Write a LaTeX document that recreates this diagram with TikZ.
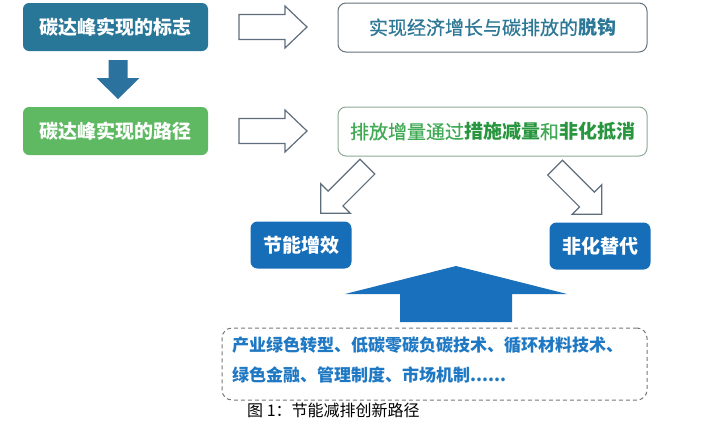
\documentclass[tikz,border=0pt]{standalone}
\usepackage{fontspec}
\setmainfont{Noto Sans CJK SC}
\newfontfamily\medfont[FakeBold=0.6]{Noto Sans CJK SC}
\definecolor{tealbox}{RGB}{40,118,152}
\definecolor{greenbox}{RGB}{95,185,98}
\definecolor{downarr}{RGB}{44,114,158}
\definecolor{hollowline}{RGB}{95,110,125}
\definecolor{rOneline}{RGB}{100,115,125}
\definecolor{rOnetext}{RGB}{45,120,150}
\definecolor{rTwoline}{RGB}{140,170,150}
\definecolor{rTwotext}{RGB}{65,170,85}
\definecolor{rTwobold}{RGB}{40,150,62}
\definecolor{bluebox}{RGB}{22,110,185}
\definecolor{bigarr}{RGB}{25,112,188}
\definecolor{dashtext}{RGB}{30,120,195}
\definecolor{dashline}{RGB}{120,120,120}
\tikzset{
  leftbox/.style={rounded corners=6pt, minimum width=185pt, minimum height=48pt, inner sep=0pt,
    text=white, font=\bfseries\fontsize{19}{22}\selectfont},
  rightbox/.style={rounded corners=8pt, draw, fill=white, line width=1pt, minimum width=309pt,
    minimum height=49pt, inner sep=0pt, font=\medfont\fontsize{19}{22}\selectfont},
  bluebx/.style={fill=bluebox, rounded corners=7pt, minimum width=101pt, minimum height=47pt,
    inner sep=0pt, text=white, font=\bfseries\fontsize{19}{22}\selectfont},
  hollowarrow/.style={draw=hollowline, fill=white, line width=1.2pt, line join=miter},
  listtext/.style={anchor=west, inner sep=0pt, text=dashtext, font=\bfseries\fontsize{17}{20}\selectfont},
}
% #1 name, #2 centre, #3 rotation, #4 length, #5 shaft width, #6 head width, #7 head length, #8 style
\newcommand{\BlockArrow}[8]{%
  \begin{scope}[shift={#2}, rotate=#3]
    \coordinate (#1) at (0,0);
    \path[#8] ({-#4/2},{#5/2}) -- ({#4/2-#7},{#5/2}) -- ({#4/2-#7},{#6/2}) -- ({#4/2},0)
      -- ({#4/2-#7},{-#6/2}) -- ({#4/2-#7},{-#5/2}) -- ({-#4/2},{-#5/2}) -- cycle;
  \end{scope}}
\begin{document}
\begin{tikzpicture}[x=1pt,y=1pt]
\fill[white] (0,0) rectangle (721,-424);
\useasboundingbox (0,0) rectangle (721,-424);

% left column
\node[leftbox, fill=tealbox] (mark) at (115.5,-27) {碳达峰实现的标志};
\node[leftbox, fill=greenbox] (path) at (115.5,-131) {碳达峰实现的路径};
\BlockArrow{down}{(118,-79.5)}{-90}{39}{19}{43}{21}{fill=downarr}

% right boxes
\node[rightbox, draw=rOneline, text=rOnetext] (decouple) at (492.5,-27.5)
  {实现经济增长与碳排放的{\normalfont\bfseries 脱钩}};
\node[rightbox, draw=rTwoline, text=rTwotext] (offset) at (492.5,-131.5)
  {排放增量通过{\normalfont\bfseries\color{rTwobold}措施减量}和{\normalfont\bfseries\color{rTwobold}非化抵消}};

% hollow arrows
\BlockArrow{h1}{(273,-27)}{0}{68}{25}{42}{22}{hollowarrow}
\BlockArrow{h2}{(273,-131)}{0}{68}{25}{42}{22}{hollowarrow}
\BlockArrow{d1}{(344,-190)}{225}{66}{21}{42}{21}{hollowarrow}
\BlockArrow{d2}{(578.5,-191)}{-45}{66}{21}{42}{21}{hollowarrow}

% blue boxes
\node[bluebx] (save) at (301,-245) {节能增效};
\node[bluebx] (subst) at (600,-246) {非化替代};

% big up arrow
\BlockArrow{up}{(456,-294)}{90}{56}{112}{222}{28}{fill=bigarr}

% dashed box
\node[draw=dashline, line width=1pt, dash pattern=on 4pt off 3pt, rounded corners=10pt,
      minimum width=425pt, minimum height=72pt] (measures) at (434.5,-364) {};
\node[listtext] (l1) at (232,-345) {产业绿色转型、低碳零碳负碳技术、循环材料技术、};
\node[listtext] (l2) at (232,-375) {绿色金融、管理制度、市场机制......};

% caption
\node[anchor=west, inner sep=0pt, font=\fontsize{16}{18}\selectfont] (cap) at (247,-410) {图 1：节能减排创新路径};
\end{tikzpicture}
\end{document}
